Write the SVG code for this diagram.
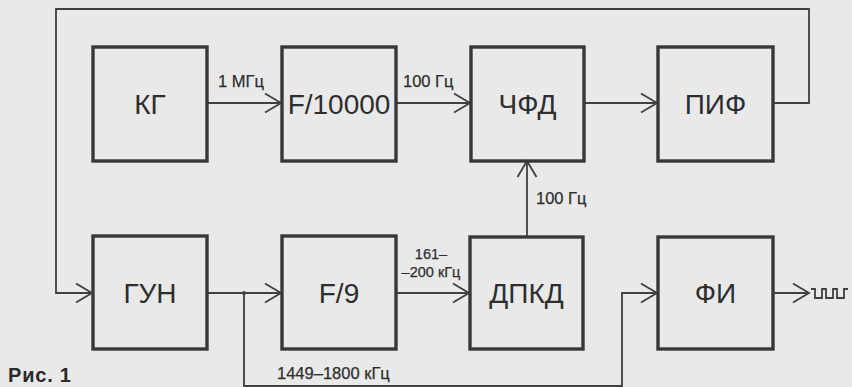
<svg xmlns="http://www.w3.org/2000/svg" width="852" height="387" viewBox="0 0 852 387">
  <defs>
    <style>
      .box { fill: none; stroke: #383838; stroke-width: 3.4; }
      .lbl { font-family: "Liberation Sans", Arial, sans-serif; font-size: 28px; fill: #2e2e2e; text-anchor: middle; }
      .sm { font-family: "Liberation Sans", Arial, sans-serif; font-size: 16.5px; fill: #2e2e2e; stroke: #2e2e2e; stroke-width: 0.25; }
      .xs { font-family: "Liberation Sans", Arial, sans-serif; font-size: 14.5px; fill: #2e2e2e; stroke: #2e2e2e; stroke-width: 0.25; text-anchor: middle; }
      .conn { fill: none; stroke: #404040; stroke-width: 1.8; }
    </style>
    <marker id="arr" viewBox="-18 -11 20 22" markerWidth="20" markerHeight="22" refX="0" refY="0" orient="auto" markerUnits="userSpaceOnUse">
      <path d="M-16,-9.5 L0,0 L-16,9.5" fill="none" stroke="#404040" stroke-width="1.8"/>
    </marker>
  </defs>
  <rect x="0" y="0" width="852" height="387" fill="#e9e9e9"/>

  <g id="connectors">
    <line class="conn" x1="207" y1="103" x2="281" y2="103" marker-end="url(#arr)"/>
    <line class="conn" x1="396" y1="103" x2="470" y2="103" marker-end="url(#arr)"/>
    <line class="conn" x1="584" y1="103" x2="657" y2="103" marker-end="url(#arr)"/>
    <polyline class="conn" points="773,103 809,103 809,9 56,9 56,293 92,293" marker-end="url(#arr)"/>
    <line class="conn" x1="207" y1="293" x2="281" y2="293" marker-end="url(#arr)"/>
    <circle cx="244" cy="293" r="2" fill="#404040"/>
    <polyline class="conn" points="244,293 244,386 622,386 622,293 657,293" marker-end="url(#arr)"/>
    <line class="conn" x1="396" y1="293" x2="469" y2="293" marker-end="url(#arr)"/>
    <line class="conn" x1="527" y1="237" x2="527" y2="161" marker-end="url(#arr)"/>
    <line class="conn" x1="773" y1="293" x2="809" y2="293" marker-end="url(#arr)"/>
    <path class="conn" d="M811,289 h4 v9 h7 v-9 h4 v9 h7 v-9 h4 v9 h7 v-9 h4"/>
    <text class="sm" x="218" y="87">1 МГц</text>
    <text class="sm" x="403" y="87">100 Гц</text>
    <text class="sm" x="536" y="204">100 Гц</text>
    <text class="xs" x="431" y="259">161–</text>
    <text class="xs" x="431" y="277">–200 кГц</text>
    <text class="sm" x="277" y="379" font-size="17">1449–1800 кГц</text>
  </g>

  <g id="kg">
    <rect class="box" x="93" y="47" width="114" height="114"/>
    <text class="lbl" x="150" y="114">КГ</text>
  </g>
  <g id="f10000">
    <rect class="box" x="282" y="47" width="114" height="114"/>
    <text class="lbl" x="339" y="114">F/10000</text>
  </g>
  <g id="chfd">
    <rect class="box" x="471" y="47" width="113" height="114"/>
    <text class="lbl" x="527.5" y="114">ЧФД</text>
  </g>
  <g id="pif">
    <rect class="box" x="658" y="47" width="115" height="114"/>
    <text class="lbl" x="715.5" y="114">ПИФ</text>
  </g>
  <g id="gun">
    <rect class="box" x="93" y="236" width="114" height="113"/>
    <text class="lbl" x="150" y="303">ГУН</text>
  </g>
  <g id="f9">
    <rect class="box" x="282" y="236" width="114" height="113"/>
    <text class="lbl" x="339" y="303">F/9</text>
  </g>
  <g id="dpkd">
    <rect class="box" x="470" y="237" width="113" height="112"/>
    <text class="lbl" x="526.5" y="303">ДПКД</text>
  </g>
  <g id="fi">
    <rect class="box" x="658" y="237" width="115" height="112"/>
    <text class="lbl" x="715.5" y="303">ФИ</text>
  </g>
  <text x="8" y="382" font-family="'Liberation Sans', Arial, sans-serif" font-size="20" font-weight="bold" fill="#2a2a2a" letter-spacing="0.8">Рис. 1</text>
</svg>
